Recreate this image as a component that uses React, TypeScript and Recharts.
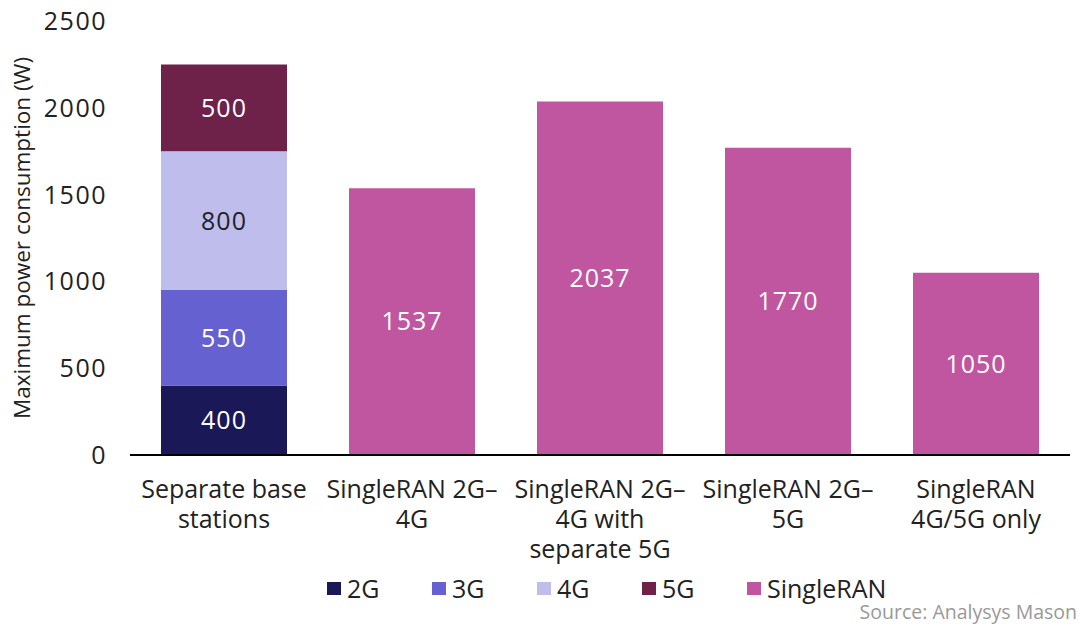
import React from "react";
import { BarChart, Bar, XAxis, YAxis, Legend, LabelList } from "recharts";

const categories = [
  "Separate base\nstations",
  "SingleRAN 2G–\n4G",
  "SingleRAN 2G–\n4G with\nseparate 5G",
  "SingleRAN 2G–\n5G",
  "SingleRAN\n4G/5G only",
];
const g2 = [400, null, null, null, null];
const g3 = [550, null, null, null, null];
const g4 = [800, null, null, null, null];
const g5 = [500, null, null, null, null];
const singleRAN = [null, 1537, 2037, 1770, 1050];
const yTicks = [0, 500, 1000, 1500, 2000, 2500];

const series = [
  { key: "2G", values: g2, color: "#1b1858", label: "#ffffff" },
  { key: "3G", values: g3, color: "#6661d1", label: "#ffffff" },
  { key: "4G", values: g4, color: "#bfbdec", label: "#222222" },
  { key: "5G", values: g5, color: "#6e2149", label: "#ffffff" },
  { key: "SingleRAN", values: singleRAN, color: "#c156a0", label: "#ffffff" },
];

const data = categories.map((c, i) => {
  const row: any = { name: c };
  series.forEach((s) => {
    row[s.key] = s.values[i];
  });
  return row;
});

const FONT = "'Open Sans', sans-serif";

const XTick = (props: any) => {
  const { x, y, payload } = props;
  const lines = String(payload.value).split("\n");
  return (
    <text x={x} y={y} textAnchor="middle" fill="#222" fontSize={25} fontFamily={FONT}>
      {lines.map((l: string, i: number) => (
        <tspan key={i} x={x} dy={i === 0 ? 43 : 30}>
          {l}
        </tspan>
      ))}
    </text>
  );
};

const YTick = (props: any) => {
  const { x, y, payload } = props;
  return (
    <text x={x} y={y} dy={9} textAnchor="end" fill="#222" fontSize={25} fontFamily={FONT} letterSpacing={1.5}>
      {payload.value}
    </text>
  );
};

const LegendContent = () => (
  <div style={{ position: "relative", width: 1079, height: 30, fontFamily: FONT }}>
    {series.map((s, i) => (
      <div
        key={s.key}
        style={{
          position: "absolute",
          left: 327 + i * 105,
          top: 0,
          display: "flex",
          alignItems: "center",
          height: 30,
        }}
      >
        <div style={{ width: 14, height: 13, background: s.color, marginRight: 6 }} />
        <span style={{ fontSize: 25, color: "#222", lineHeight: "30px" }}>{s.key}</span>
      </div>
    ))}
  </div>
);

export default function App() {
  return (
    <div style={{ position: "absolute", left: 0, top: 0, width: 1079, height: 624, background: "#fff" }}>
      <BarChart
        width={1079}
        height={624}
        data={data}
        margin={{ top: 21, right: 9, bottom: 138, left: 0 }}
        barCategoryGap={31}
      >
        <XAxis
          dataKey="name"
          interval={0}
          tick={<XTick />}
          tickLine={false}
          tickSize={0}
          tickMargin={0}
          axisLine={{ stroke: "#000", strokeWidth: 2 }}
          height={1}
        />
        <YAxis
          width={130}
          domain={[0, 2500]}
          ticks={yTicks}
          axisLine={false}
          tickLine={false}
          tickSize={0}
          tickMargin={23}
          tick={<YTick />}
          label={{
            value: "Maximum power consumption (W)",
            angle: -90,
            position: "insideLeft",
            dx: 17,
            style: { textAnchor: "middle", fontSize: 22.5, fontFamily: FONT, fill: "#222" },
          }}
        />
        <Legend
          content={<LegendContent />}
          wrapperStyle={{ position: "absolute", left: 0, top: 573, width: 1079 }}
        />
        {series.map((s) => (
          <Bar
            key={s.key}
            dataKey={s.key}
            stackId="a"
            fill={s.color}
            isAnimationActive={false}
          >
            <LabelList
              dataKey={s.key}
              position="center"
              fill={s.label}
              fontSize={25}
              fontFamily={FONT}
              letterSpacing={1}
            />
          </Bar>
        ))}
      </BarChart>
      <div
        style={{
          position: "absolute",
          right: 2,
          top: 600,
          fontSize: 19.5,
          fontFamily: FONT,
          color: "#999",
          lineHeight: "24px",
        }}
      >
        Source: Analysys Mason
      </div>
    </div>
  );
}
